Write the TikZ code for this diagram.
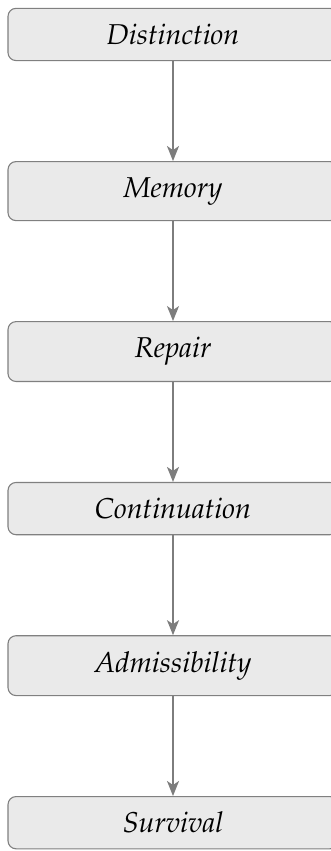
\documentclass[tikz,border=0pt]{standalone}
\usepackage[T1]{fontenc}
\usepackage{mathpazo}
\usetikzlibrary{positioning,arrows.meta}
\definecolor{boxfill}{RGB}{234,234,234}
\definecolor{boxline}{RGB}{128,128,128}
\definecolor{arrowcol}{RGB}{125,125,125}
\tikzset{
  stagebox/.style={draw=boxline, fill=boxfill, line width=1.1pt, rounded corners=8pt,
    minimum width=330pt, inner xsep=10pt, inner ysep=15.6pt,
    font=\fontsize{28.7}{34}\selectfont\itshape},
  flowarrow/.style={draw=arrowcol, line width=1.6pt,
    -{Stealth[length=15pt,width=12pt,inset=4pt]}}
}
\begin{document}
\begin{tikzpicture}[node distance=99.9pt]
\useasboundingbox (0pt,0pt) rectangle (331pt,-851pt);
\node[stagebox, anchor=north] (n1) at (173pt,-7.8pt) {Distinction};
\node[stagebox, below=of n1] (n2) {Memory};
\node[stagebox, below=of n2] (n3) {Repair};
\node[stagebox, below=of n3] (n4) {Continuation};
\node[stagebox, below=of n4] (n5) {Admissibility};
\node[stagebox, below=of n5] (n6) {Survival};
\draw[flowarrow] (n1) -- (n2);
\draw[flowarrow] (n2) -- (n3);
\draw[flowarrow] (n3) -- (n4);
\draw[flowarrow] (n4) -- (n5);
\draw[flowarrow] (n5) -- (n6);
\end{tikzpicture}
\end{document}
